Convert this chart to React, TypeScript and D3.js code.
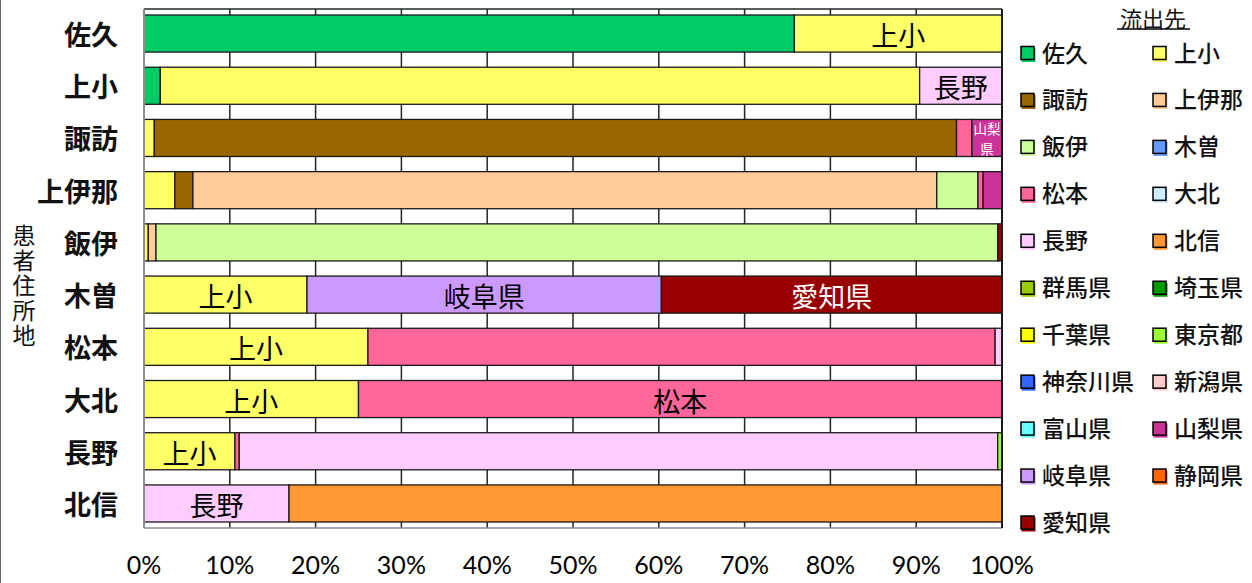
import React from "react";
import * as d3 from "d3";

// Patient residence areas (rows, top to bottom)
const residences = ["佐久", "上小", "諏訪", "上伊那", "飯伊", "木曽", "松本", "大北", "長野", "北信"];

// Outflow destinations (stack order = legend order)
const destinations = [
  "佐久", "上小", "諏訪", "上伊那", "飯伊", "木曽", "松本", "大北", "長野", "北信",
  "群馬県", "埼玉県", "千葉県", "東京都", "神奈川県", "新潟県", "富山県", "山梨県", "岐阜県", "静岡県", "愛知県",
];

const destColors = [
  "#00CC66", "#FFFF66", "#996600", "#FFCC99", "#CCFF99", "#6699FF", "#FF6699", "#CCECFF", "#FFCCFF", "#FF9933",
  "#99CC00", "#009900", "#FFFF00", "#99FF33", "#3366FF", "#FFCCCC", "#66FFFF", "#CC3399", "#CC99FF", "#FF6600", "#990000",
];

// Share (%) of each residence's patients going to a destination, in residence order
const toSaku = [75.8, 1.9, 0, 0, 0, 0, 0, 0, 0, 0];
const toJosho = [24.2, 88.5, 1.2, 3.6, 0.5, 19.0, 26.1, 25.0, 10.6, 0];
const toSuwa = [0, 0, 93.5, 2.1, 0, 0, 0, 0, 0, 0];
const toKamiina = [0, 0, 0, 86.7, 0.9, 0, 0, 0, 0, 0];
const toIiina = [0, 0, 0, 4.8, 98.1, 0, 0, 0, 0, 0];
const toKiso = [0, 0, 0, 0, 0, 0, 0, 0, 0, 0];
const toMatsumoto = [0, 0, 1.8, 0.6, 0, 0, 73.1, 75.0, 0.5, 0];
const toDaihoku = [0, 0, 0, 0, 0, 0, 0, 0, 0, 0];
const toNagano = [0, 9.6, 0, 0, 0, 0, 0.8, 0, 88.4, 16.9];
const toHokushin = [0, 0, 0, 0, 0, 0, 0, 0, 0, 83.1];
const toGunma = [0, 0, 0, 0, 0, 0, 0, 0, 0, 0];
const toSaitama = [0, 0, 0, 0, 0, 0, 0, 0, 0, 0];
const toChiba = [0, 0, 0, 0, 0, 0, 0, 0, 0, 0];
const toTokyo = [0, 0, 0, 0, 0, 0, 0, 0, 0.5, 0];
const toKanagawa = [0, 0, 0, 0, 0, 0, 0, 0, 0, 0];
const toNiigata = [0, 0, 0, 0, 0, 0, 0, 0, 0, 0];
const toToyama = [0, 0, 0, 0, 0, 0, 0, 0, 0, 0];
const toYamanashi = [0, 0, 3.5, 2.2, 0, 0, 0, 0, 0, 0];
const toGifu = [0, 0, 0, 0, 0, 41.3, 0, 0, 0, 0];
const toShizuoka = [0, 0, 0, 0, 0, 0, 0, 0, 0, 0];
const toAichi = [0, 0, 0, 0, 0.5, 39.7, 0, 0, 0, 0];

const seriesValues = [
  toSaku, toJosho, toSuwa, toKamiina, toIiina, toKiso, toMatsumoto, toDaihoku, toNagano, toHokushin,
  toGunma, toSaitama, toChiba, toTokyo, toKanagawa, toNiigata, toToyama, toYamanashi, toGifu, toShizuoka, toAichi,
];

const xTicks = [0, 10, 20, 30, 40, 50, 60, 70, 80, 90, 100];

// Segments that carry a name label: [residence, destination]
const labelled = [
  ["佐久", "上小"], ["上小", "長野"], ["諏訪", "山梨県"],
  ["木曽", "上小"], ["木曽", "岐阜県"], ["木曽", "愛知県"],
  ["松本", "上小"], ["大北", "上小"], ["大北", "松本"],
  ["長野", "上小"], ["北信", "長野"],
];
const whiteLabelDest = ["山梨県", "愛知県"];

const W = 1252;
const H = 583;
const CJK = "'Noto Sans CJK JP', 'Noto Sans', sans-serif";
const LATIN = "Lato, 'Open Sans', sans-serif";

export default function App() {
  const left = 144, right = 1002, top = 9, bottom = 528;

  const x = d3.scaleLinear().domain([0, 100]).range([left, right]);
  const y = d3.scaleBand<string>().domain(residences).range([top, bottom])
    .paddingInner(0.29).paddingOuter(0.115);

  const table = residences.map((r, i) => {
    const row: Record<string, any> = { residence: r };
    destinations.forEach((d, j) => { row[d] = seriesValues[j][i]; });
    return row;
  });
  const stacked = d3.stack<Record<string, any>>().keys(destinations)(table);
  const color = d3.scaleOrdinal<string, string>().domain(destinations).range(destColors);

  const labelSet = new Set(labelled.map(([r, d]) => r + "|" + d));

  const legendX = [1021, 1153];
  const legendY0 = 53.5;
  const legendStep = 46.95;

  return (
    <svg width={W} height={H} style={{ position: "fixed", left: 0, top: 0, background: "#fff" }}>
      {/* outer frame edge */}
      <line x1={0.5} x2={0.5} y1={0} y2={H} stroke="#666" strokeWidth={1} />

      {/* vertical gridlines */}
      {xTicks.map(t => (
        <line key={"g" + t} x1={x(t)} x2={x(t)} y1={top} y2={bottom} stroke="#262626" strokeWidth={1.5} />
      ))}
      <line x1={left} x2={right} y1={top} y2={top} stroke="#262626" strokeWidth={1.5} />

      {/* stacked bars */}
      {stacked.map(s => (
        <g key={s.key}>
          {s.map((d, i) => {
            const w = x(d[1]) - x(d[0]);
            if (w <= 0.01) return null;
            return (
              <rect key={i} x={x(d[0])} y={y(residences[i])} width={w} height={y.bandwidth()}
                fill={color(s.key)} stroke="#1a1a1a" strokeWidth={1.3} />
            );
          })}
        </g>
      ))}

      {/* segment labels */}
      {stacked.map(s => s.map((d, i) => {
        const r = residences[i];
        if (!labelSet.has(r + "|" + s.key)) return null;
        const cx = (x(d[0]) + x(d[1])) / 2;
        const cy = (y(r) as number) + y.bandwidth() / 2;
        const w = x(d[1]) - x(d[0]);
        const fill = whiteLabelDest.includes(s.key) ? "#fff" : "#000";
        if (w < 45) {
          const lines = [s.key.slice(0, 2), s.key.slice(2)];
          return (
            <text key={s.key + i} x={cx} textAnchor="middle" fontFamily={CJK} fontSize={13.5} fill={fill}>
              {lines.map((ln, k) => (
                <tspan key={k} x={cx} y={cy - 9.5 + k * 20} dominantBaseline="central">{ln}</tspan>
              ))}
            </text>
          );
        }
        return (
          <text key={s.key + i} x={cx} y={cy + 1} textAnchor="middle" dominantBaseline="central"
            fontFamily={CJK} fontSize={27} fill={fill}>{s.key}</text>
        );
      }))}

      {/* axis lines */}
      <line x1={left} x2={left} y1={top} y2={bottom} stroke="#8c8c8c" strokeWidth={2} />
      <line x1={left} x2={right} y1={bottom} y2={bottom} stroke="#8c8c8c" strokeWidth={1.5} />
      <line x1={right} x2={right} y1={top} y2={bottom} stroke="#1a1a1a" strokeWidth={2} />

      {/* x tick labels */}
      {xTicks.map(t => (
        <text key={"t" + t} x={x(t)} y={574} textAnchor="middle" fontFamily={LATIN} fontSize={25} fill="#000">
          {t}%
        </text>
      ))}

      {/* category labels */}
      {residences.map(r => (
        <text key={"c" + r} x={118} y={(y(r) as number) + y.bandwidth() / 2} textAnchor="end"
          dominantBaseline="central" fontFamily={CJK} fontSize={27} fontWeight={700} fill="#111">{r}</text>
      ))}

      {/* y axis title, set vertically */}
      <text x={24} y={224} fontFamily={CJK} fontSize={23} fill="#111"
        style={{ writingMode: "vertical-rl", textOrientation: "upright", letterSpacing: "2px" }}>
        患者住所地
      </text>

      {/* legend */}
      <text x={1153} y={17} textAnchor="middle" dominantBaseline="central" fontFamily={CJK} fontSize={22} fill="#111">流出先</text>
      <line x1={1117} x2={1190} y1={29} y2={29} stroke="#000" strokeWidth={1.5} />
      {destinations.map((d, i) => {
        const lx = legendX[i % 2];
        const ly = legendY0 + Math.floor(i / 2) * legendStep;
        return (
          <g key={"l" + d}>
            <rect x={lx + 0.5} y={ly - 5.5} width={14} height={14} fill={color(d)} />
            <rect x={lx} y={ly - 7} width={13} height={13} fill={color(d)} stroke="#000" strokeWidth={1.5} />
            <text x={lx + 21} y={ly - 2} dominantBaseline="central" fontFamily={CJK} fontSize={23}
              fontWeight={500} fill="#111">{d}</text>
          </g>
        );
      })}
    </svg>
  );
}
